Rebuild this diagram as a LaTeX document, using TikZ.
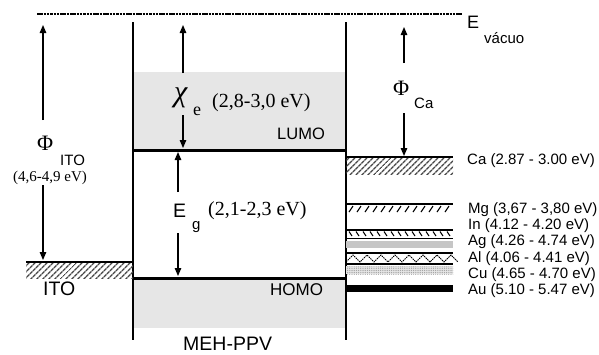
\documentclass[tikz,border=0pt]{standalone}
\usepackage{fontspec}
\setmainfont{Liberation Sans}
\newfontfamily\seriffont{Liberation Serif}
\usetikzlibrary{arrows.meta,patterns.meta}
\definecolor{lgray}{RGB}{230,230,230}
\newcommand{\fsz}[1]{\fontsize{#1}{#1}\selectfont}
\begin{document}
\begin{tikzpicture}[x=1pt,y=-1pt,
  arr/.style={line width=1.3pt,-{Triangle[length=8pt,width=6.5pt]}},
  lbl/.style={inner sep=0pt, anchor=base west},
  bar/.style={line width=1.2pt},
  level/.style={line width=3pt},
  wall/.style={line width=1.4pt},
  hatch/.style={pattern={Lines[angle=45,distance=4pt,line width=1.5pt]}, pattern color=gray!55!black}]
\useasboundingbox (0,0) rectangle (599,354);
% grey regions
\fill[lgray] (133,72) rectangle (346,150);
\fill[lgray] (133,278) rectangle (346,328);
% vacuum level
\coordinate (vacL) at (37,14);
\coordinate (vacR) at (462,14);
\draw[line width=1.1pt, dash pattern=on 2.5pt off 0.8pt] (vacL) -- (vacR);
% walls of polymer
\draw[wall] (133,22) -- (133,340);
\draw[wall] (346,22) -- (346,340);
% LUMO / HOMO
\draw[level] (132,150) -- (347,150);
\draw[level] (132,278) -- (347,278);
% ITO bar
\fill[hatch] (26,263) rectangle (133,278);
\draw[bar] (26,262) -- (133,262);
% Ca bar
\fill[hatch] (346,158) rectangle (453,174);
\draw[bar] (346,157) -- (453,157);
% Mg
\draw[bar] (346,204) -- (453,204);
\foreach \x in {349,357,...,445} \draw[line width=1.1pt] (\x,212) -- (\x+4,206);
% In
\draw[bar] (346,230) -- (453,230);
\foreach \x in {349,356,...,447} \draw[line width=1.1pt] (\x,231.5) -- (\x+3,236);
\draw[line width=1.5pt] (346,238.5) -- (453,238.5);
% Ag
\fill[gray!45] (346,241) rectangle (453,248);
% Al
\draw[bar] (346,253) -- (453,253);
\draw[line width=1pt, dash pattern=on 1.5pt off 0.8pt] (346,262) \foreach \i in {0,...,7} { -- (353+14*\i,255) -- (360+14*\i,262)};
\draw[bar] (346,264) -- (453,264);
% Cu
\fill[gray!20] (346,266) rectangle (453,274);
\fill[pattern={Dots[distance=2.2pt,radius=0.65pt]}, pattern color=gray!75] (346,266) rectangle (453,274);
% Au
\fill[black] (346,285) rectangle (453,292);
% arrows
\coordinate (chiT) at (183,25); \coordinate (chiA) at (183,73);
\coordinate (chiB) at (183,115); \coordinate (chiD) at (183,148);
\draw[arr] (chiA) -- (chiT);
\draw[arr] (chiB) -- (chiD);
\coordinate (egT) at (178,152); \coordinate (egA) at (178,192);
\coordinate (egB) at (178,233); \coordinate (egD) at (178,276);
\draw[arr] (egA) -- (egT);
\draw[arr] (egB) -- (egD);
\coordinate (itoT) at (43,25); \coordinate (itoA) at (43,120);
\coordinate (itoB) at (43,185); \coordinate (itoD) at (43,260);
\draw[arr] (itoA) -- (itoT);
\draw[arr] (itoB) -- (itoD);
\coordinate (caT) at (404,27); \coordinate (caA) at (404,63);
\coordinate (caB) at (404,113); \coordinate (caD) at (404,156);
\draw[arr] (caA) -- (caT);
\draw[arr] (caB) -- (caD);
% texts
\node[lbl] (evac) at (467,28) {\fsz{18}E};
\node[lbl] (evacs) at (484,43) {\fsz{15}vácuo};
\node[lbl] (phica) at (393,95) {\fsz{22}\seriffont Φ};
\node[lbl] (phicas) at (414,108) {\fsz{15}Ca};
\node[lbl] (phiito) at (37,150) {\fsz{22}\seriffont Φ};
\node[lbl] (phiitos) at (60,165) {\fsz{15}ITO};
\node[lbl] (itoval) at (13,181) {\fsz{15}\seriffont (4,6-4,9 eV)};
\node[lbl] (ito) at (43,295) {\fsz{19.5}ITO};
\node[lbl] (chi) at (174,101) {\fsz{30}\seriffont\itshape χ};
\node[lbl] (chis) at (193,115) {\fsz{18}\seriffont e};
\node[lbl] (chival) at (212,107) {\fsz{20}\seriffont (2,8-3,0 eV)};
\node[lbl] (lumo) at (277,139) {\fsz{16.5}LUMO};
\node[lbl] (homo) at (270,295) {\fsz{17}HOMO};
\node[lbl] (eg) at (173,217) {\fsz{19.5}E};
\node[lbl] (egs) at (192,229) {\fsz{15}g};
\node[lbl] (egval) at (208,215) {\fsz{20}\seriffont (2,1-2,3 eV)};
\node[lbl] (meh) at (183,350) {\fsz{19.5}MEH-PPV};
\node[lbl] (ca) at (467,164) {\fsz{15}Ca (2.87 - 3.00 eV)};
\node[lbl] (mg) at (468,213) {\fsz{15}Mg (3,67 - 3,80 eV)};
\node[lbl] (in) at (468,229) {\fsz{15}In (4.12 -  4.20 eV)};
\node[lbl] (ag) at (468,245.5) {\fsz{15}Ag (4.26 -  4.74 eV)};
\node[lbl] (al) at (468,262) {\fsz{15}Al (4.06 - 4.41 eV)};
\node[lbl] (cu) at (468,278) {\fsz{15}Cu (4.65 - 4.70 eV)};
\node[lbl] (au) at (468,294) {\fsz{15}Au (5.10 -  5.47 eV)};
\end{tikzpicture}
\end{document}
